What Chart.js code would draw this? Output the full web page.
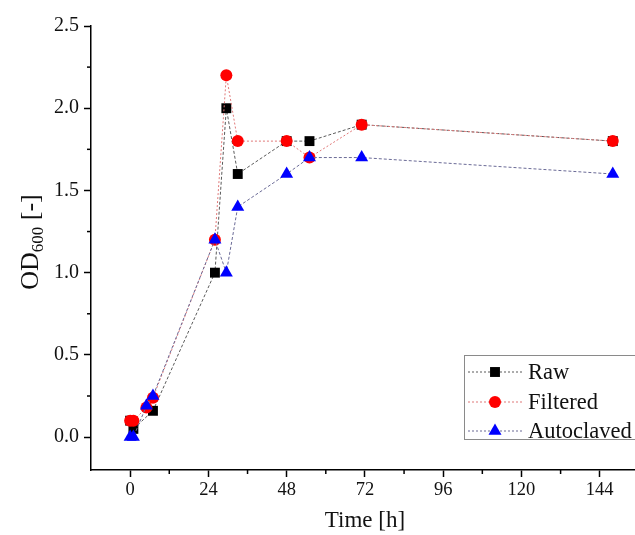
<!DOCTYPE html>
<html><head><meta charset="utf-8">
<script src="https://cdn.jsdelivr.net/npm/chart.js@4.4.0/dist/chart.umd.min.js"></script>
<style>html,body{margin:0;padding:0;overflow:hidden;background:#fff;width:635px;height:535px}
canvas{display:block}</style></head>
<body><canvas id="c" width="700" height="535"></canvas>
<script>
const seriesNames = ['Raw', 'Filtered', 'Autoclaved'];
const timeRaw = [0, 1, 7, 26, 29.5, 33, 48, 55, 71, 148];
const odRaw = [0.10, 0.05, 0.16, 1.0, 2.0, 1.6, 1.8, 1.8, 1.9, 1.8];
const timeFiltered = [0, 1, 5, 7, 26, 29.5, 33, 48, 55, 71, 148];
const odFiltered = [0.10, 0.10, 0.18, 0.24, 1.2, 2.2, 1.8, 1.8, 1.7, 1.9, 1.8];
const timeAutoclaved = [0, 1, 5, 7, 26, 29.5, 33, 48, 55, 71, 148];
const odAutoclaved = [0.0, 0.0, 0.19, 0.25, 1.2, 1.0, 1.4, 1.6, 1.7, 1.7, 1.6];
const xTickValues = [0, 24, 48, 72, 96, 120, 144];
const xMinorTicks = [12, 36, 60, 84, 108, 132, 156];
const yTickValues = [0, 0.5, 1.0, 1.5, 2.0, 2.5];
const yMinorTicks = [0.25, 0.75, 1.25, 1.75, 2.25];

const SERIF = "'Liberation Serif', 'DejaVu Serif', serif";
const styles = [
  {line: '#5a5a5a', fill: '#000000', shape: 'rect', r: 7, dash: [3, 2]},
  {line: '#e07878', fill: '#ff0000', shape: 'circle', r: 6, dash: [2, 2]},
  {line: '#6a6a96', fill: '#0000ff', shape: 'triangle', r: 7.5, dash: [3, 2]}
];
function pts(xs, ys) { return xs.map((x, i) => ({x: x, y: ys[i]})); }
const dataSets = [pts(timeRaw, odRaw), pts(timeFiltered, odFiltered), pts(timeAutoclaved, odAutoclaved)];

const datasets = dataSets.map((d, i) => ({
  label: seriesNames[i],
  data: d,
  order: 2 - i,
  borderColor: styles[i].line,
  borderWidth: 1,
  borderDash: styles[i].dash,
  pointStyle: styles[i].shape,
  pointRadius: styles[i].r,
  pointBackgroundColor: styles[i].fill,
  pointBorderColor: styles[i].fill,
  pointBorderWidth: 0,
  tension: 0,
  fill: false
}));

function drawMarker(ctx, shape, x, y, r, color) {
  ctx.save();
  ctx.fillStyle = color;
  ctx.beginPath();
  if (shape === 'rect') {
    const s = r * Math.SQRT1_2;
    ctx.rect(x - s, y - s, 2 * s, 2 * s);
  } else if (shape === 'circle') {
    ctx.arc(x, y, r, 0, Math.PI * 2);
  } else {
    ctx.moveTo(x, y - r);
    ctx.lineTo(x + r * Math.sin(Math.PI / 3), y + r * 0.5);
    ctx.lineTo(x - r * Math.sin(Math.PI / 3), y + r * 0.5);
    ctx.closePath();
  }
  ctx.fill();
  ctx.restore();
}

const decor = {
  id: 'decor',
  afterDraw(chart) {
    const ctx = chart.ctx;
    const xs = chart.scales.x, ys = chart.scales.y;
    const a = chart.chartArea;
    ctx.save();
    ctx.strokeStyle = '#000';
    ctx.lineWidth = 1.5;
    xMinorTicks.forEach(v => {
      const px = xs.getPixelForValue(v);
      ctx.beginPath(); ctx.moveTo(px, a.bottom); ctx.lineTo(px, a.bottom + 4); ctx.stroke();
    });
    yMinorTicks.forEach(v => {
      const py = ys.getPixelForValue(v);
      ctx.beginPath(); ctx.moveTo(a.left - 4, py); ctx.lineTo(a.left, py); ctx.stroke();
    });
    ctx.fillStyle = '#111';
    ctx.font = '23px ' + SERIF;
    ctx.textAlign = 'center';
    ctx.textBaseline = 'alphabetic';
    ctx.fillText('Time [h]', 365, 527);
    ctx.translate(38, 242);
    ctx.rotate(-Math.PI / 2);
    const big = '26px ' + SERIF, small = '17px ' + SERIF;
    ctx.font = big; const w1 = ctx.measureText('OD').width;
    ctx.font = small; const w2 = ctx.measureText('600').width;
    ctx.font = big; const w3 = ctx.measureText(' [-]').width;
    let x0 = -(w1 + w2 + w3) / 2;
    ctx.textAlign = 'left';
    ctx.font = big; ctx.fillText('OD', x0, 0);
    ctx.font = small; ctx.fillText('600', x0 + w1, 5);
    ctx.font = big; ctx.fillText(' [-]', x0 + w1 + w2, 0);
    ctx.restore();

    ctx.save();
    const lx = 464, ly = 355, lw = 260, lh = 84;
    ctx.fillStyle = '#fff';
    ctx.fillRect(lx, ly, lw, lh);
    ctx.strokeStyle = '#8a8a8a';
    ctx.lineWidth = 1;
    ctx.strokeRect(lx + 0.5, ly + 0.5, lw, lh);
    const rows = [372, 402, 431];
    seriesNames.forEach((name, i) => {
      const y = rows[i];
      ctx.strokeStyle = styles[i].line;
      ctx.setLineDash([2, 2]);
      ctx.beginPath(); ctx.moveTo(468, y); ctx.lineTo(522, y); ctx.stroke();
      ctx.setLineDash([]);
      drawMarker(ctx, styles[i].shape, 495, y, styles[i].r, styles[i].fill);
      ctx.fillStyle = '#111';
      ctx.font = '22.5px ' + SERIF;
      ctx.textAlign = 'left';
      ctx.textBaseline = 'middle';
      ctx.fillText(name, 528, y + 1);
    });
    ctx.restore();
  }
};

new Chart(document.getElementById('c'), {
  type: 'line',
  data: {datasets: datasets},
  options: {
    responsive: false,
    animation: false,
    events: [],
    layout: {padding: {left: 0, top: 26, right: 22, bottom: 29}},
    plugins: {legend: {display: false}, tooltip: {enabled: false}, title: {display: false}},
    scales: {
      x: {
        type: 'linear', min: -12, max: 168,
        afterBuildTicks: s => { s.ticks = xTickValues.map(v => ({value: v})); },
        afterFit: s => { s.height = 36; },
        grid: {drawOnChartArea: false, drawTicks: true, tickLength: 7, color: '#000', tickWidth: 1.5},
        border: {display: true, color: '#000', width: 1.5},
        ticks: {font: {family: SERIF, size: 18.5}, color: '#111', maxRotation: 0, padding: 2,
                callback: v => String(v)}
      },
      y: {
        type: 'linear', min: -0.2, max: 2.5,
        afterBuildTicks: s => { s.ticks = yTickValues.map(v => ({value: v})); },
        afterFit: s => { s.width = 91; },
        grid: {drawOnChartArea: false, drawTicks: true, tickLength: 7, color: '#000', tickWidth: 1.5},
        border: {display: true, color: '#000', width: 1.5},
        ticks: {font: {family: SERIF, size: 20}, color: '#111', padding: 5,
                callback: v => Number(v).toFixed(1)}
      }
    }
  },
  plugins: [decor]
});
</script>
</body></html>
